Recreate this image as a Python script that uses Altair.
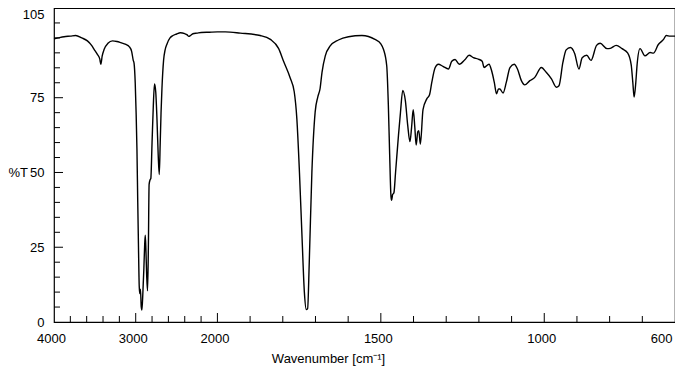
import altair as alt
import pandas as pd

# ---- spectrum data ----
wavenumber = [4000, 3950, 3877, 3800, 3734, 3660, 3591, 3540, 3509, 3469, 3440, 3427, 3410, 3386,
              3340, 3284, 3230, 3182, 3120, 3080, 3050, 3030, 3020, 3006, 2995, 2985, 2975, 2966,
              2957, 2950, 2942, 2932, 2924, 2912, 2900, 2890, 2883, 2875, 2865, 2855, 2845, 2836,
              2825, 2815, 2800, 2785, 2770, 2755, 2740, 2725, 2712, 2700, 2690, 2679, 2659, 2640,
              2617, 2580, 2556, 2500, 2454, 2400, 2370, 2350, 2330, 2300, 2250, 2200, 2100, 2000,
              1976, 1930, 1869, 1838, 1813, 1797, 1777, 1765, 1757, 1749, 1741, 1734, 1728, 1724,
              1719, 1711, 1701, 1693, 1686, 1680, 1670, 1655, 1630, 1599, 1558, 1518, 1500, 1492,
              1482, 1477, 1473, 1469, 1467, 1464, 1460, 1455, 1446, 1440, 1433, 1425, 1418, 1411,
              1406, 1401, 1396, 1392, 1387, 1384, 1379, 1371, 1359, 1351, 1344, 1334, 1324, 1310,
              1293, 1283, 1273, 1260, 1243, 1230, 1217, 1202, 1190, 1184, 1169, 1161, 1153, 1146,
              1140, 1136, 1126, 1116, 1105, 1092, 1082, 1070, 1060, 1044, 1029, 1009, 994, 978,
              963, 955, 943, 933, 920, 907, 894, 884, 870, 857, 840, 829, 808, 798, 780, 762, 745,
              734, 729, 725, 720, 716, 707, 692, 676, 666, 651, 635, 627, 615, 600]
transmittance = [94.7, 95.0, 95.4, 95.6, 95.8, 95.0, 94.0, 92.5, 91.2, 89.5, 88.0, 86.2, 89.0, 91.2,
                 93.2, 94.0, 93.8, 93.4, 92.8, 92.1, 90.5, 87.5, 86.5, 80.0, 70.0, 58.0, 40.0, 25.0,
                 12.0, 9.5, 11.0, 5.0, 4.0, 10.0, 18.0, 26.0, 29.0, 24.0, 15.0, 10.4, 25.0, 46.0,
                 47.5, 48.0, 60.0, 72.0, 79.6, 77.0, 68.0, 56.0, 49.3, 60.0, 70.0, 78.0, 87.5, 91.0,
                 93.0, 95.0, 95.6, 96.3, 96.7, 96.4, 96.0, 95.5, 95.8, 96.4, 96.6, 96.8, 96.9, 97.0,
                 97.0, 96.6, 95.8, 94.5, 91.5, 87.0, 81.5, 77.0, 68.0, 50.0, 28.0, 10.0, 4.2, 4.5,
                 20.0, 50.0, 70.2, 75.2, 78.0, 83.5, 89.0, 92.3, 94.3, 95.4, 95.8, 94.5, 93.0, 91.2,
                 85.7, 72.4, 56.0, 42.0, 40.7, 42.6, 43.2, 50.0, 62.5, 70.0, 77.4, 74.0, 66.0, 60.3,
                 65.0, 71.0, 65.0, 59.2, 63.6, 64.0, 59.5, 71.0, 74.7, 76.0, 80.2, 85.0, 86.2, 85.5,
                 84.6, 87.2, 87.8, 86.2, 87.7, 89.2, 88.4, 87.9, 87.2, 85.1, 86.2, 84.0, 80.2, 76.3,
                 77.9, 77.9, 76.6, 80.2, 85.1, 86.2, 84.6, 80.7, 79.3, 80.7, 81.8, 85.1, 83.5, 81.3,
                 78.5, 79.0, 86.8, 91.0, 91.8, 89.8, 84.6, 88.4, 89.2, 87.5, 92.5, 93.2, 91.4, 91.5,
                 92.5, 91.4, 90.0, 86.0, 80.0, 75.2, 80.0, 86.0, 91.4, 89.0, 90.1, 89.9, 92.8, 94.5,
                 95.8, 95.6, 95.6]

# ---- axis ticks / labels ----
x_labels = [4000, 3000, 2000, 1500, 1000, 600]
x_major_ticks = [3000, 2000, 1500, 1000]
x_minor_ticks = [3800, 3600, 3400, 3200, 2800, 2600, 2400, 2200,
                 1900, 1800, 1700, 1600, 1400, 1300, 1200, 1100, 900, 800, 700]
y_labels = [0, 25, 50, 75, 105]
y_major_ticks = [25, 50, 75]
y_minor_ticks = [5, 10, 15, 20, 30, 35, 40, 45, 55, 60, 65, 70, 80, 85, 90, 95, 100]

W, H = 621, 314
FONT = "Liberation Sans"

spec_df = pd.DataFrame({"w": wavenumber, "t": transmittance})

# piecewise scale: 4000-2000 compressed 4x relative to 2000-600
xscale = alt.Scale(domain=[4000, 2000, 600], range=[0, W * 500 / 1900, W], nice=False, zero=False)
yscale = alt.Scale(domain=[0, 105], nice=False, zero=False)

x_axis = alt.Axis(
    values=x_labels, format="d", ticks=False, tickSize=0, domain=False, grid=False,
    labelFont=FONT, labelFontSize=13, labelColor="black", labelPadding=10,
    labelOffset=-3, labelOverlap=False, labelFlush=False,
    labelAlign={"condition": {"test": "datum.value == 600", "value": "right"}, "value": "center"},
    title="Wavenumber [cm⁻¹]", titleFont=FONT, titleFontSize=13, titleFontWeight="normal",
    titleColor="black", titleX=274, titleY=40, titleAlign="center", titleBaseline="alphabetic",
    titleAnchor="start",
)
y_axis = alt.Axis(
    values=y_labels, format="d", ticks=False, tickSize=0, domain=False, grid=False,
    labelFont=FONT, labelFontSize=13, labelColor="black", labelPadding=10,
    labelBaseline={"condition": {"test": "datum.value == 105", "value": "top"}, "value": "middle"},
    labelOverlap=False, labelFlush=False,
    title="%T", titleFont=FONT, titleFontSize=13, titleFontWeight="normal", titleColor="black",
    titleAngle=0, titleX=-46, titleY=164.5, titleAlign="left", titleBaseline="middle",
)

line = alt.Chart(spec_df).mark_line(color="black", strokeWidth=1.4, interpolate="monotone").encode(
    x=alt.X("w:Q", scale=xscale, axis=x_axis),
    y=alt.Y("t:Q", scale=yscale, axis=y_axis),
)


def xticks(vals, length):
    return alt.Chart(pd.DataFrame({"w": vals})).mark_rule(color="black", strokeWidth=1).encode(
        x=alt.X("w:Q", scale=xscale, axis=x_axis),
        y=alt.value(H), y2=alt.value(H - length),
    )


def yticks(vals, length):
    return alt.Chart(pd.DataFrame({"t": vals})).mark_rule(color="black", strokeWidth=1).encode(
        y=alt.Y("t:Q", scale=yscale, axis=y_axis),
        x=alt.value(0), x2=alt.value(length),
    )


chart = alt.layer(
    line,
    xticks(x_minor_ticks, 6), xticks(x_major_ticks, 9),
    yticks(y_minor_ticks, 6), yticks(y_major_ticks, 9),
).properties(
    width=W, height=H,
    autosize=alt.AutoSizeParams(type="none"),
    padding={"left": 46, "top": 0, "right": 0, "bottom": 45},
).configure_view(stroke="black", strokeWidth=1.2)

chart.save("out.html", embed_options={"renderer": "svg", "actions": False})
